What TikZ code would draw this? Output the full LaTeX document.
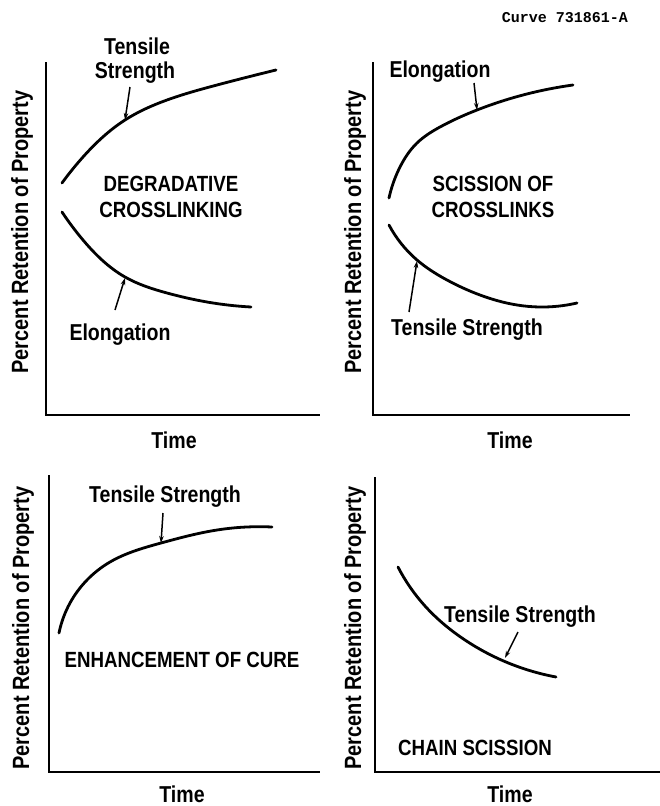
\documentclass[tikz,border=0pt]{standalone}
\usepackage{fontspec}
\setmainfont{Liberation Sans}[FakeStretch=0.85,UprightFont=* Bold]
\newfontfamily\curvefont{Liberation Mono}
\usetikzlibrary{arrows.meta,hobby}
\begin{document}
\begin{tikzpicture}[x=1pt,y=-1pt,
  axis/.style={line width=2.4pt},
  curve/.style={line width=2.8pt,line cap=round,use Hobby shortcut},
  pointer/.style={line width=1.5pt,-{Stealth[length=7pt,width=4.5pt]}},
  lbl/.style={font=\fontsize{23}{27}\selectfont,inner sep=0pt},
  captxt/.style={font=\fontsize{22}{26}\selectfont,inner sep=0pt,align=center},
  ylbl/.style={font=\fontsize{23.5}{27}\selectfont,inner sep=0pt,rotate=90}]
\useasboundingbox (0,0) rectangle (660,806);
\node[inner sep=0pt,font=\curvefont\bfseries\fontsize{15}{18}\selectfont] (cid) at (565,18) {Curve 731861-A};
% ---- Panel 1
\coordinate (a1o) at (46,415);
\draw[axis] (46,62) -- (a1o) -- (320,415);
\node[ylbl] (y1) at (22,232) {Percent Retention of Property};
\node[lbl] (t1) at (174,440) {Time};
\draw[curve] (62,183) .. (83,157) .. (125,120) .. (167,100) .. (217,85) .. (276,70);
\draw[curve] (62,212) .. (83,240) .. (125,277) .. (167,293) .. (207,302) .. (251,307);
\node[lbl] (ts1a) at (137,46) {Tensile};
\node[lbl] (ts1b) at (135,73) {Strength};
\coordinate (ts1t) at (130,87); \coordinate (ts1h) at (125,120);
\draw[pointer] (ts1t) -- (ts1h);
\node[lbl] (el1) at (120,335) {Elongation};
\coordinate (el1t) at (115,310); \coordinate (el1h) at (125,278);
\draw[pointer] (el1t) -- (el1h);
\node[captxt] (c1) at (171,197) {DEGRADATIVE\\CROSSLINKING};
% ---- Panel 2
\coordinate (a2o) at (373,415);
\draw[axis] (373,62) -- (a2o) -- (630,415);
\node[ylbl] (y2) at (355,232) {Percent Retention of Property};
\node[lbl] (t2) at (510,440) {Time};
\draw[curve] (389,198) .. (400,167) .. (417,143) .. (440,127) .. (477,110) .. (523,95) .. (573,85);
\draw[curve] (389,225) .. (417,260) .. (447,280) .. (480,295) .. (517,305) .. (540,307) .. (577,303);
\node[lbl] (el2) at (440,72) {Elongation};
\coordinate (el2t) at (474,83); \coordinate (el2h) at (477,110);
\draw[pointer] (el2t) -- (el2h);
\node[lbl] (ts2) at (467,330) {Tensile Strength};
\coordinate (ts2t) at (409,312); \coordinate (ts2h) at (417,261);
\draw[pointer] (ts2t) -- (ts2h);
\node[captxt] (c2) at (493,197) {SCISSION OF\\CROSSLINKS};
% ---- Panel 3
\coordinate (a3o) at (49,772);
\draw[axis] (49,475) -- (a3o) -- (320,772);
\node[ylbl] (y3) at (23,628) {Percent Retention of Property};
\node[lbl] (t3) at (182,794) {Time};
\draw[curve] (59,633) .. (70,603) .. (87,580) .. (110,562) .. (161,543) .. (217,530) .. (272,527);
\node[lbl] (ts3) at (165,497) {Tensile Strength};
\coordinate (ts3t) at (163,513); \coordinate (ts3h) at (161,543);
\draw[pointer] (ts3t) -- (ts3h);
\node[captxt] (c3) at (182,660) {ENHANCEMENT OF CURE};
% ---- Panel 4
\coordinate (a4o) at (375,772);
\draw[axis] (375,477) -- (a4o) -- (660,772);
\node[ylbl] (y4) at (355,628) {Percent Retention of Property};
\node[lbl] (t4) at (510,794) {Time};
\draw[curve] (398,567) .. (425,606) .. (462,638) .. (556,677);
\node[lbl] (ts4) at (520,617) {Tensile Strength};
\coordinate (ts4t) at (518,632); \coordinate (ts4h) at (505,658);
\draw[pointer] (ts4t) -- (ts4h);
\node[captxt] (c4) at (475,748) {CHAIN SCISSION};
\end{tikzpicture}
\end{document}
